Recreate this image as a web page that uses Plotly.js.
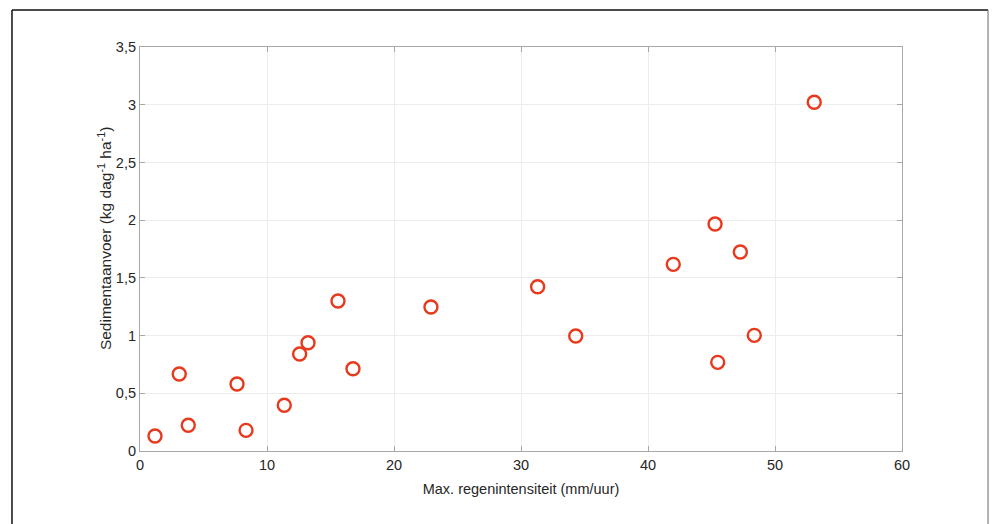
<!DOCTYPE html>
<html>
<head>
<meta charset="utf-8">
<script src="https://cdn.plot.ly/plotly-3.0.1.min.js"></script>
<style>
html,body{margin:0;padding:0;background:#fff;}
#chart{width:995px;height:524px;}
</style>
</head>
<body>
<div id="chart"></div>
<script>
const intensity = [1.18, 3.09, 3.80, 7.64, 8.35, 11.36, 12.57, 13.23, 15.59, 16.77, 22.91, 31.31, 34.31, 41.99, 45.28, 45.49, 47.27, 48.37, 53.09];
const sediment  = [0.13, 0.667, 0.223, 0.58, 0.179, 0.396, 0.84, 0.938, 1.30, 0.713, 1.248, 1.423, 0.996, 1.617, 1.967, 0.768, 1.724, 1.002, 3.021];
const xTitle = 'Max. regenintensiteit (mm/uur)';
const yTitle = 'Sedimentaanvoer (kg dag<sup>-1</sup> ha<sup>-1</sup>)';

const FONT = 'Liberation Sans, Arial, sans-serif';

const trace = {
  x: intensity, y: sediment, type: 'scatter', mode: 'markers',
  marker: {symbol: 'circle-open', size: 13, color: '#e8391d', line: {width: 2.4, color: '#e8391d'}},
  hoverinfo: 'x+y'
};

const axisCommon = {
  showline: true, linecolor: '#a8a8a8', linewidth: 1.2, mirror: 'ticks',
  ticks: 'inside', ticklen: 5, tickcolor: '#a8a8a8', tickwidth: 1,
  showgrid: true, gridcolor: '#ececec', gridwidth: 1, zeroline: false,
  tickfont: {family: FONT, size: 14.5, color: '#262626'}
};

const layout = {
  width: 995, height: 524,
  margin: {l: 140, r: 93, t: 47, b: 73},
  paper_bgcolor: '#fff', plot_bgcolor: '#fff',
  separators: ', ',
  showlegend: false,
  xaxis: Object.assign({}, axisCommon, {
    range: [0, 60], dtick: 10, tick0: 0,
    title: {text: xTitle, standoff: 12, font: {family: FONT, size: 14.5, color: '#262626'}}
  }),
  yaxis: Object.assign({}, axisCommon, {
    range: [0, 3.5], dtick: 0.5, tick0: 0
  }),
  annotations: [
    {text: yTitle, xref: 'paper', yref: 'paper', x: -0.0459, y: 0.527, xanchor: 'center', yanchor: 'middle',
     textangle: -90, showarrow: false, font: {family: FONT, size: 15.5, color: '#262626'}}
  ],
  shapes: [
    {type: 'line', xref: 'paper', yref: 'paper', x0: -0.168, x1: 1.1129, y0: 1.0916, y1: 1.0916, line: {color: '#111', width: 1.5}},
    {type: 'line', xref: 'paper', yref: 'paper', x0: -0.168, x1: -0.168, y0: 1.0916, y1: -0.3, line: {color: '#111', width: 1.5}},
    {type: 'line', xref: 'paper', yref: 'paper', x0: 1.1129, x1: 1.1129, y0: 1.0916, y1: -0.3, line: {color: '#666', width: 1}}
  ]
};

Plotly.newPlot('chart', [trace], layout, {displayModeBar: false, responsive: false});
</script>
</body>
</html>
